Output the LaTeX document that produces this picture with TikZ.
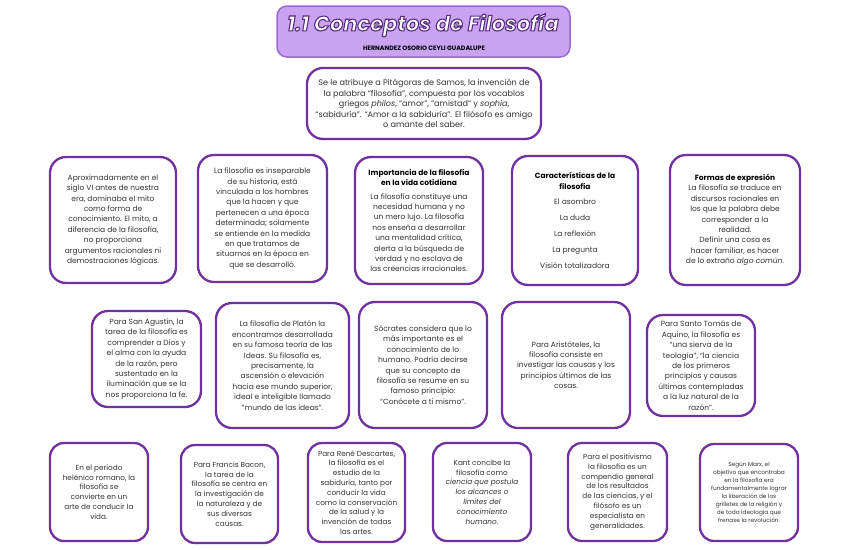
\documentclass[tikz,border=0pt]{standalone}
\usepackage{fontspec}
\setmainfont{Poppins}
\definecolor{boxpurple}{HTML}{7030A0}
\definecolor{titlefill}{HTML}{C9A3F2}
\definecolor{titledraw}{HTML}{9A68D4}
\definecolor{titleink}{HTML}{5A2D82}
\newcommand\hd[1]{\textbf{\color{black}#1}}
\newcommand\outlinedtext[1]{\color{white}\special{pdf:literal direct 0.353 0.176 0.510 RG 1.1 w 2 Tr}#1\special{pdf:literal direct 0 Tr}}
\begin{document}
\begin{tikzpicture}[x=1pt,y=-1pt,
  box/.style={draw=boxpurple, line width=2.3pt, rounded corners=16pt, fill=white,
    align=center, inner sep=0pt, text=black!80, font=\fontsize{7.5}{10.4}\selectfont},
  smallbox/.style={box, rounded corners=14pt, font=\fontsize{7.3}{9.8}\selectfont},
  titletext/.style={font=\fontsize{21}{23}\selectfont\bfseries\itshape}]
\useasboundingbox[fill=white] (0,0) rectangle (848,549);

% title
\node[draw=titledraw, fill=titlefill, line width=1.5pt, rounded corners=10pt,
  minimum width=293pt, minimum height=51pt] (title) at (423.5,31.5) {};
\node[titletext] (ttext) at (423,25) {\outlinedtext{1.1 Conceptos de Filosofía}};
\node[font=\fontsize{6.3}{7}\selectfont\bfseries, text=black] (author) at (424,48.5) {HERNANDEZ OSORIO CEYLI GUADALUPE};

% top box
\node[box, minimum width=234pt, minimum height=71pt, font=\fontsize{8.1}{10.6}\selectfont] (top) at (424,103.5) {%
Se le atribuye a Pitágoras de Samos, la invención de\\
la palabra “filosofía”, compuesta por los vocablos\\
griegos \textit{philos}, “amor”, “amistad” y \textit{sophia},\\
“sabiduría”. “Amor a la sabiduría”. El filósofo es amigo\\
o amante del saber.};

% row 2
\node[box, minimum width=126pt, minimum height=126pt] (a1) at (113,220) {%
Aproximadamente en el\\ siglo VI antes de nuestra\\ era, dominaba el mito\\ como forma de\\
conocimiento. El mito, a\\ diferencia de la filosofía,\\ no proporciona\\
argumentos racionales ni\\ demostraciones lógicas.};
\node[box, minimum width=129pt, minimum height=127pt] (a2) at (262.5,218.5) {%
La filosofía es inseparable\\ de su historia, está\\ vinculada a los hombres\\ que la hacen y que\\
pertenecen a una época\\ determinada; solamente\\ se entiende en la medida\\ en que tratamos de\\
situarnos en la época en\\ que se desarrolló.};
\node[box, minimum width=128pt, minimum height=127pt] (a3) at (419,220.5) {%
\hd{Importancia de la filosofía}\\ \hd{en la vida cotidiana}\\[3pt]
La filosofía constituye una\\ necesidad humana y no\\ un mero lujo. La filosofía\\
nos enseña a desarrollar\\ una mentalidad crítica,\\ alerta a la búsqueda de\\
verdad y no esclava de\\ las creencias irracionales.};
\node[box, minimum width=126pt, minimum height=129pt] (a4) at (575,220.5) {%
\hd{Características de la}\\ \hd{filosofía}\\[5pt]
El asombro\\[5.5pt] La duda\\[5.5pt] La reflexión\\[5.5pt] La pregunta\\[5.5pt] Visión totalizadora};
\node[box, minimum width=130pt, minimum height=130pt] (a5) at (735,220) {%
\hd{Formas de expresión}\\
La filosofía se traduce en\\ discursos racionales en\\ los que la palabra debe\\
corresponder a la\\ realidad.\\ Definir una cosa es\\ hacer familiar, es hacer\\
de lo extraño \textit{algo común}.};

% row 3
\node[box, minimum width=109pt, minimum height=96pt] (b1) at (146.5,359) {%
Para San Agustín, la\\ tarea de la filosofía es\\ comprender a Dios y\\ el alma con la ayuda\\
de la razón, pero\\ sustentado en la\\ iluminación que se la\\ nos proporciona la fe.};
\node[box, minimum width=133pt, minimum height=125pt] (b2) at (282.5,365.5) {%
La filosofía de Platón la\\ encontramos desarrollada\\ en su famosa teoría de las\\
Ideas. Su filosofía es,\\ precisamente, la\\ ascensión o elevación\\ hacia ese mundo superior,\\
ideal e inteligible llamado\\ “mundo de las ideas”.};
\node[box, minimum width=128pt, minimum height=126pt] (b3) at (423,365) {%
Sócrates considera que lo\\ más importante es el\\ conocimiento de lo\\ humano. Podría decirse\\
que su concepto de\\ filosofía se resume en su\\ famoso principio:\\ “Conócete a ti mismo”.};
\node[box, minimum width=128pt, minimum height=126pt] (b4) at (566,365) {%
Para Aristóteles, la\\ filosofía consiste en\\ investigar las causas y los\\
principios últimos de las\\ cosas.};
\node[box, minimum width=108pt, minimum height=101pt] (b5) at (701,365.5) {%
Para Santo Tomás de\\ Aquino, la filosofía es\\ “una sierva de la\\ teología”, “la ciencia\\
de los primeros\\ principios y causas\\ últimas contempladas\\ a la luz natural de la\\ razón”.};

% row 4
\node[smallbox, minimum width=98pt, minimum height=98pt] (c1) at (99,492) {%
En el periodo\\ helénico romano, la\\ filosofía se\\ convierte en un\\ arte de conducir la\\ vida.};
\node[smallbox, minimum width=97pt, minimum height=98pt] (c2) at (229.5,494) {%
Para Francis Bacon,\\ la tarea de la\\ filosofía se centra en\\ la investigación de\\
la naturaleza y de\\ sus diversas\\ causas.};
\node[smallbox, minimum width=97pt, minimum height=99pt] (c3) at (356.5,492.5) {%
Para René Descartes,\\ la filosofía es el\\ estudio de la\\ sabiduría, tanto por\\
conducir la vida\\ como la conservación\\ de la salud y la\\ invención de todas\\ las artes.};
\node[smallbox, minimum width=98pt, minimum height=98pt] (c4) at (482,492) {%
Kant concibe la\\ filosofía como\\ \textit{ciencia que postula}\\ \textit{los alcances o}\\
\textit{límites del}\\ \textit{conocimiento}\\ \textit{humano}.};
\node[smallbox, minimum width=99pt, minimum height=98pt] (c5) at (617.5,492) {%
Para el positivismo\\ la filosofía es un\\ compendio general\\ de los resultados\\
de las ciencias, y el\\ filósofo es un\\ especialista en\\ generalidades.};
\node[smallbox, minimum width=98pt, minimum height=97pt, font=\fontsize{5.8}{8}\selectfont] (c6) at (749,492.5) {%
Según Marx, el\\ objetivo que encontraba\\ en la filosofía era\\ fundamentalmente lograr\\
la liberación de los\\ grilletes de la religión y\\ de toda ideología que\\ frenase la revolución.};
\end{tikzpicture}
\end{document}
